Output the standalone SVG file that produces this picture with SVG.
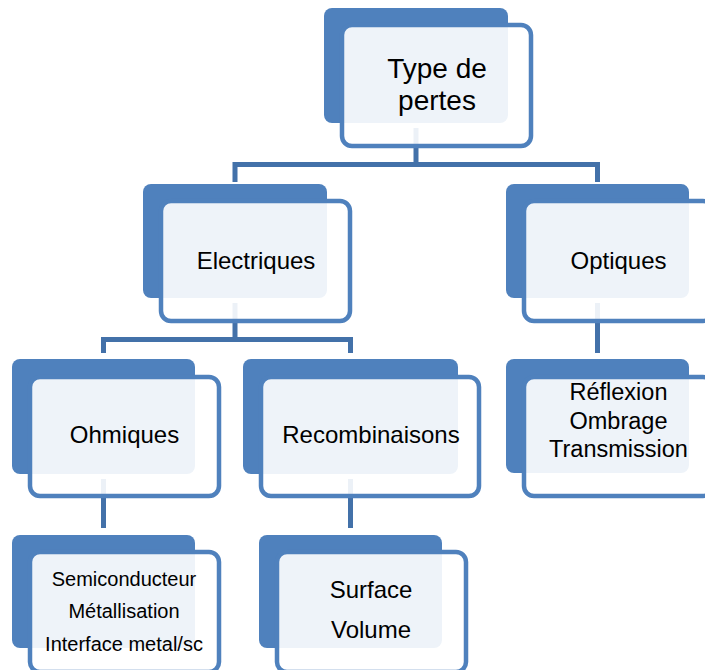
<svg xmlns="http://www.w3.org/2000/svg" width="705" height="670" viewBox="0 0 705 670">
<style>
.bk{fill:#4F81BD}
.fr{fill:#FFFFFF;fill-opacity:0.9;stroke:#4F81BD;stroke-width:4.5}
.cn{fill:none;stroke:#4371A9;stroke-width:5}
text{font-family:"Liberation Sans",Arial,sans-serif;fill:#000000;text-anchor:middle}
.t28{font-size:28px}
.t24{font-size:24px}
.t23{font-size:23.5px}
.t20{font-size:20px}
</style>
<rect width="705" height="670" fill="#FFFFFF"/>
<g id="connectors">
<path class="cn" d="M416,128 V164.5"/>
<path class="cn" d="M235,182 V164.5 H597.5 V182"/>
<path class="cn" d="M235,303 V339.5"/>
<path class="cn" d="M103.5,353 V339.5 H350.5 V353"/>
<path class="cn" d="M597.5,303 V353"/>
<path class="cn" d="M103.5,479 V528"/>
<path class="cn" d="M350.5,479 V528"/>
</g>
<g id="node-type">
<rect class="bk" x="324" y="8" width="184" height="115" rx="8"/>
<rect class="fr" x="342" y="25" width="189" height="121" rx="10"/>
<text class="t28" x="437" y="78">Type de</text>
<text class="t28" x="437" y="110">pertes</text>
</g>
<g id="node-electriques">
<rect class="bk" x="143" y="184" width="184" height="114" rx="8"/>
<rect class="fr" x="161" y="201" width="189" height="120" rx="10"/>
<text class="t24" x="256" y="269">Electriques</text>
</g>
<g id="node-optiques">
<rect class="bk" x="506" y="184" width="183" height="114" rx="8"/>
<rect class="fr" x="524" y="201" width="189" height="120" rx="10"/>
<text class="t24" x="618.5" y="269">Optiques</text>
</g>
<g id="node-ohmiques">
<rect class="bk" x="12" y="359" width="183" height="115" rx="8"/>
<rect class="fr" x="30" y="377" width="189" height="119" rx="10"/>
<text class="t24" x="124.5" y="443">Ohmiques</text>
</g>
<g id="node-recombinaisons">
<rect class="bk" x="243" y="359" width="215" height="115" rx="8"/>
<rect class="fr" x="261" y="377" width="218" height="119" rx="10"/>
<text class="t24" x="371" y="443">Recombinaisons</text>
</g>
<g id="node-reflexion">
<rect class="bk" x="506" y="359" width="183" height="114" rx="8"/>
<rect class="fr" x="524" y="377" width="189" height="119" rx="10"/>
<text class="t23" x="618.5" y="400">Réflexion</text>
<text class="t23" x="618.5" y="429">Ombrage</text>
<text class="t23" x="618.5" y="457">Transmission</text>
</g>
<g id="node-semiconducteur">
<rect class="bk" x="12" y="535" width="183" height="113" rx="8"/>
<rect class="fr" x="30" y="552" width="189" height="120" rx="10"/>
<text class="t20" x="124" y="586">Semiconducteur</text>
<text class="t20" x="124" y="618">Métallisation</text>
<text class="t20" x="124" y="651">Interface metal/sc</text>
</g>
<g id="node-surface">
<rect class="bk" x="259" y="535" width="183" height="113" rx="8"/>
<rect class="fr" x="277" y="552" width="189" height="120" rx="10"/>
<text class="t24" x="371" y="598">Surface</text>
<text class="t24" x="371" y="638">Volume</text>
</g>
</svg>
